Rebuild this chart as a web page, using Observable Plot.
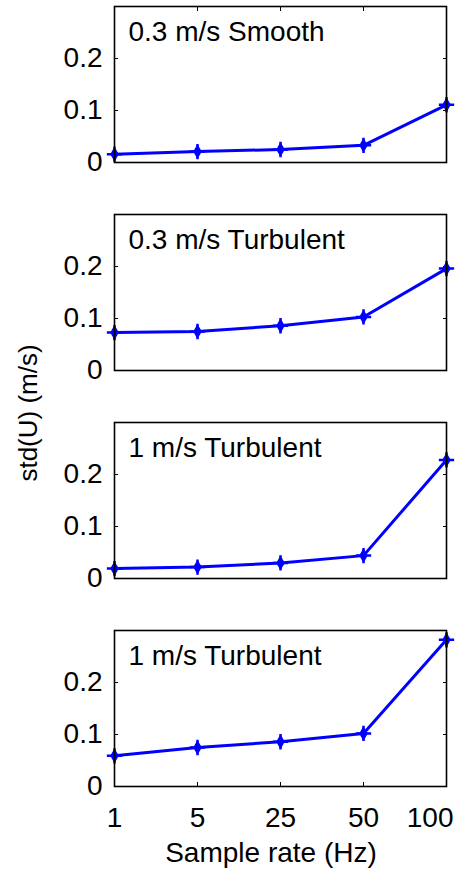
<!DOCTYPE html>
<html>
<head>
<meta charset="utf-8">
<script src="https://cdn.jsdelivr.net/npm/d3@7"></script>
<script src="https://cdn.jsdelivr.net/npm/@observablehq/plot@0.6"></script>
<style>
  html, body { margin: 0; padding: 0; background: #fff; }
  #chart { width: 459px; height: 873px; }
</style>
</head>
<body>
<div id="chart"></div>
<script>
const rates = ["1", "5", "25", "50", "100"];
const panelTitles = ["0.3 m/s Smooth", "0.3 m/s Turbulent", "1 m/s Turbulent", "1 m/s Turbulent"];
const smooth03 = [0.016, 0.021, 0.025, 0.033, 0.111];
const turb03 = [0.073, 0.075, 0.086, 0.103, 0.196];
const turb1a = [0.019, 0.022, 0.030, 0.044, 0.228];
const turb1b = [0.059, 0.075, 0.086, 0.102, 0.282];
const yTicks = [0, 0.1, 0.2];
const xLabel = "Sample rate (Hz)";
const yLabel = "std(U) (m/s)";

const series = [smooth03, turb03, turb1a, turb1b];
const rows = [];
series.forEach((vals, p) => vals.forEach((v, i) => rows.push({panel: p, rate: rates[i], value: v})));
const titles = panelTitles.map((t, p) => ({panel: p, title: t}));

const FONT = "Liberation Sans, Arial, Helvetica, sans-serif";
const FS = 28;
const blue = "#0000ff";

const plot = Plot.plot({
  width: 459,
  height: 873,
  marginTop: 5,
  marginBottom: 86,
  marginLeft: 114,
  marginRight: 13,
  style: {fontFamily: FONT, fontSize: FS + "px", background: "white", color: "black"},
  x: {type: "point", domain: rates, padding: 0},
  y: {domain: [0, 0.3]},
  fy: {domain: [0, 1, 2, 3], paddingInner: 0.249, paddingOuter: 0, axis: null},
  marks: [
    Plot.axisY({anchor: "left", ticks: yTicks, tickSize: -4, tickPadding: 16, tickFormat: d => String(d), label: null, fontSize: FS}),
    Plot.axisY({anchor: "right", ticks: yTicks, tickSize: -4, tickFormat: () => "", label: null}),
    Plot.axisX({anchor: "bottom", tickSize: -4, tickPadding: 25, label: null, fontSize: FS}),
    Plot.axisX({anchor: "top", tickSize: -4, tickFormat: () => "", label: null, facetAnchor: "top"}),
    Plot.line(rows, {x: "rate", y: "value", fy: "panel", stroke: blue, strokeWidth: 3}),
    Plot.dot(rows, {x: "rate", y: "value", fy: "panel", symbol: "diamond", r: 4.5, fill: blue, stroke: "none"}),
    Plot.dot(rows, {x: "rate", y: "value", fy: "panel", symbol: "plus", r: 5, stroke: blue, strokeWidth: 2.5}),
    Plot.text(titles, {fy: "panel", text: "title", frameAnchor: "top-left", dx: 14, dy: 15, lineAnchor: "top", textAnchor: "start", fontSize: FS, fill: "black"}),
    Plot.frame({stroke: "black", strokeWidth: 1.6})
  ]
});

const svg = d3.select(plot);
// keep the last x tick label inside the picture, as in the reference
const lastRate = rates[rates.length - 1];
svg.selectAll("text")
  .filter(function () { return this.textContent === lastRate; })
  .attr("text-anchor", "end")
  .attr("dx", 7);
const xs = plot.scale("x");
const fys = plot.scale("fy");
const xMid = (xs.apply(rates[0]) + xs.apply(rates[rates.length - 1])) / 2;
const fyTop = fys.apply(0);
const fyBottom = fys.apply(3) + fys.bandwidth;
svg.append("text")
  .attr("x", xMid - 9)
  .attr("y", 862)
  .attr("text-anchor", "middle")
  .attr("font-family", FONT)
  .attr("font-size", FS)
  .attr("fill", "black")
  .text(xLabel);
svg.append("text")
  .attr("transform", `translate(37, ${(fyTop + fyBottom) / 2 + 17}) rotate(-90)`)
  .attr("text-anchor", "middle")
  .attr("font-family", FONT)
  .attr("font-size", 26)
  .attr("fill", "black")
  .text(yLabel);

document.getElementById("chart").appendChild(plot);
</script>
</body>
</html>
